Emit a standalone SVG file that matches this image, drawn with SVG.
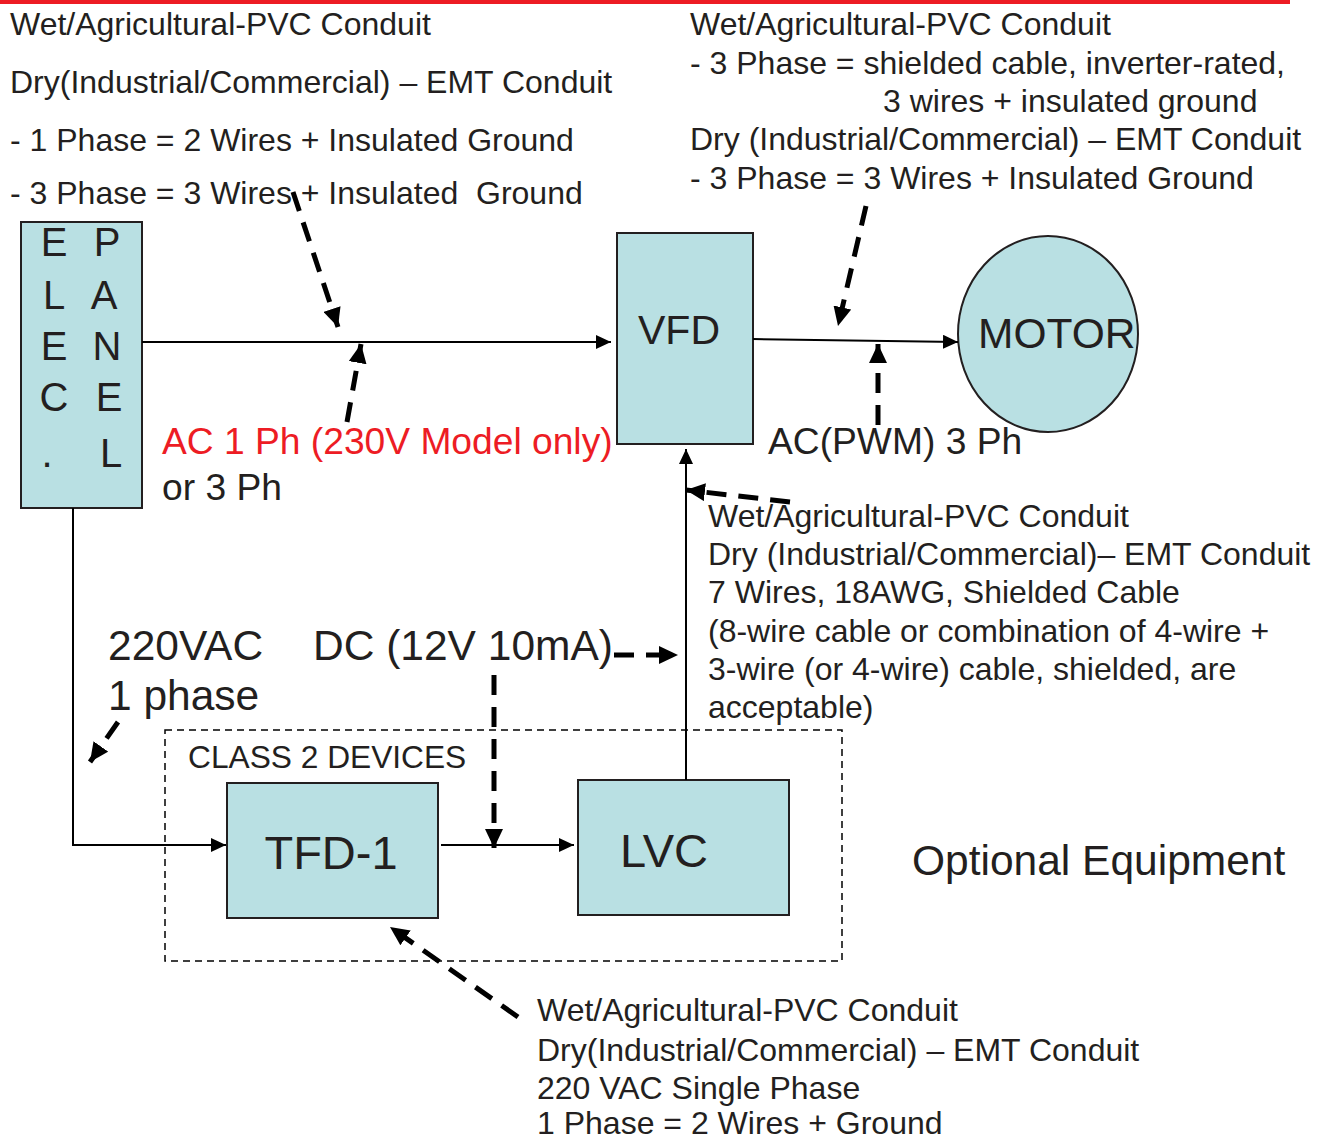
<svg xmlns="http://www.w3.org/2000/svg" width="1327" height="1140" viewBox="0 0 1327 1140">
<style>
text{font-family:"Liberation Sans",Arial,sans-serif;fill:#231f20;white-space:pre}
.s{font-size:32px}
.m{font-size:37.2px}
.l{font-size:42.5px}
.box{fill:#b9e0e3;stroke:#231f20;stroke-width:2}
.wire{fill:none;stroke:#000;stroke-width:2}
.dash{fill:none;stroke:#000;stroke-width:5;stroke-dasharray:20 12}
</style>
<defs>
<marker id="a" markerUnits="userSpaceOnUse" markerWidth="16" markerHeight="14" refX="15" refY="7" orient="auto"><path d="M0,0L15,7L0,14z" fill="#000"/></marker>
<marker id="d" markerUnits="userSpaceOnUse" markerWidth="20" markerHeight="18" refX="19" refY="9" orient="auto"><path d="M0,0L19,9L0,18z" fill="#000"/></marker>
</defs>
<rect width="1327" height="1140" fill="#fff"/>
<line x1="0" y1="2" x2="1290" y2="2" stroke="#ed1c24" stroke-width="4"/>

<g id="notes">
<text class="s" x="10" y="35">Wet/Agricultural-PVC Conduit</text>
<text class="s" x="10" y="93">Dry(Industrial/Commercial) – EMT Conduit</text>
<text class="s" x="10" y="151">- 1 Phase = 2 Wires + Insulated Ground</text>
<text class="s" x="10" y="204">- 3 Phase = 3 Wires + Insulated  Ground</text>
<text class="s" x="690" y="35">Wet/Agricultural-PVC Conduit</text>
<text class="s" x="690" y="74">- 3 Phase = shielded cable, inverter-rated,</text>
<text class="s" x="883" y="112">3 wires + insulated ground</text>
<text class="s" x="690" y="150">Dry (Industrial/Commercial) – EMT Conduit</text>
<text class="s" x="690" y="189">- 3 Phase = 3 Wires + Insulated Ground</text>
<text class="m" x="162" y="454" style="fill:#ed1c24">AC 1 Ph (230V Model only)</text>
<text class="m" x="162" y="500">or 3 Ph</text>
<text class="m" x="768" y="454">AC(PWM) 3 Ph</text>
<text class="s" x="708" y="527">Wet/Agricultural-PVC Conduit</text>
<text class="s" x="708" y="565">Dry (Industrial/Commercial)– EMT Conduit</text>
<text class="s" x="708" y="603">7 Wires, 18AWG, Shielded Cable</text>
<text class="s" x="708" y="642">(8-wire cable or combination of 4-wire +</text>
<text class="s" x="708" y="680">3-wire (or 4-wire) cable, shielded, are</text>
<text class="s" x="708" y="718">acceptable)</text>
<text class="l" x="108" y="660">220VAC</text>
<text class="l" x="108" y="710">1 phase</text>
<text class="l" x="313" y="660">DC (12V 10mA)</text>
<text x="912" y="875" style="font-size:42.5px">Optional Equipment</text>
<text class="s" x="537" y="1021">Wet/Agricultural-PVC Conduit</text>
<text class="s" x="537" y="1061">Dry(Industrial/Commercial) – EMT Conduit</text>
<text class="s" x="537" y="1099">220 VAC Single Phase</text>
<text class="s" x="537" y="1134">1 Phase = 2 Wires + Ground</text>
</g>

<g id="class2">
<rect x="165" y="730" width="677" height="231" fill="none" stroke="#000" stroke-width="1.5" stroke-dasharray="7 5"/>
<text x="188" y="768" style="font-size:31.7px">CLASS 2 DEVICES</text>
</g>

<g id="panel">
<rect class="box" x="21" y="222" width="121" height="286"/>
<g style="font-size:40px" text-anchor="middle">
<text x="54" y="256">E</text><text x="107" y="256">P</text>
<text x="54" y="309">L</text><text x="104" y="309">A</text>
<text x="54" y="360">E</text><text x="107" y="360">N</text>
<text x="54" y="411">C</text><text x="109" y="411">E</text>
<text x="47" y="467">.</text><text x="111" y="467">L</text>
</g>
</g>

<g id="vfd">
<rect class="box" x="617" y="233" width="136" height="211"/>
<text x="679" y="344" text-anchor="middle" style="font-size:41px">VFD</text>
</g>

<g id="motor">
<ellipse class="box" cx="1048" cy="334" rx="90" ry="98"/>
<text x="978" y="348" style="font-size:42.5px">MOTOR</text>
</g>

<g id="tfd1">
<rect class="box" x="227" y="783" width="211" height="135"/>
<text x="331" y="869" text-anchor="middle" style="font-size:47px">TFD-1</text>
</g>

<g id="lvc">
<rect class="box" x="578" y="780" width="211" height="135"/>
<text x="620" y="867" style="font-size:47px">LVC</text>
</g>

<g id="connectors">
<line class="wire" x1="142" y1="342" x2="611" y2="342" marker-end="url(#a)"/>
<line class="wire" x1="753" y1="339" x2="958" y2="342" marker-end="url(#a)"/>
<line class="wire" x1="686" y1="780" x2="686" y2="449" marker-end="url(#a)"/>
<polyline class="wire" points="73,508 73,845 226,845" marker-end="url(#a)"/>
<line class="wire" x1="441" y1="845" x2="574" y2="845" marker-end="url(#a)"/>

<line class="dash" x1="293" y1="192" x2="338" y2="327" marker-end="url(#d)"/>
<line class="dash" x1="347" y1="422" x2="361" y2="344" marker-end="url(#d)"/>
<line class="dash" x1="866" y1="206" x2="838" y2="326" marker-end="url(#d)"/>
<line class="dash" x1="878" y1="425" x2="878" y2="344" marker-end="url(#d)"/>
<line class="dash" x1="790" y1="502" x2="686" y2="490" marker-end="url(#d)"/>
<line class="dash" x1="614" y1="655" x2="678" y2="655" marker-end="url(#d)"/>
<line class="dash" x1="118" y1="722" x2="90" y2="762" marker-end="url(#d)"/>
<line class="dash" x1="494" y1="675" x2="494" y2="848" marker-end="url(#d)"/>
<line class="dash" x1="518" y1="1017" x2="390" y2="927" marker-end="url(#d)"/>
</g>
</svg>
